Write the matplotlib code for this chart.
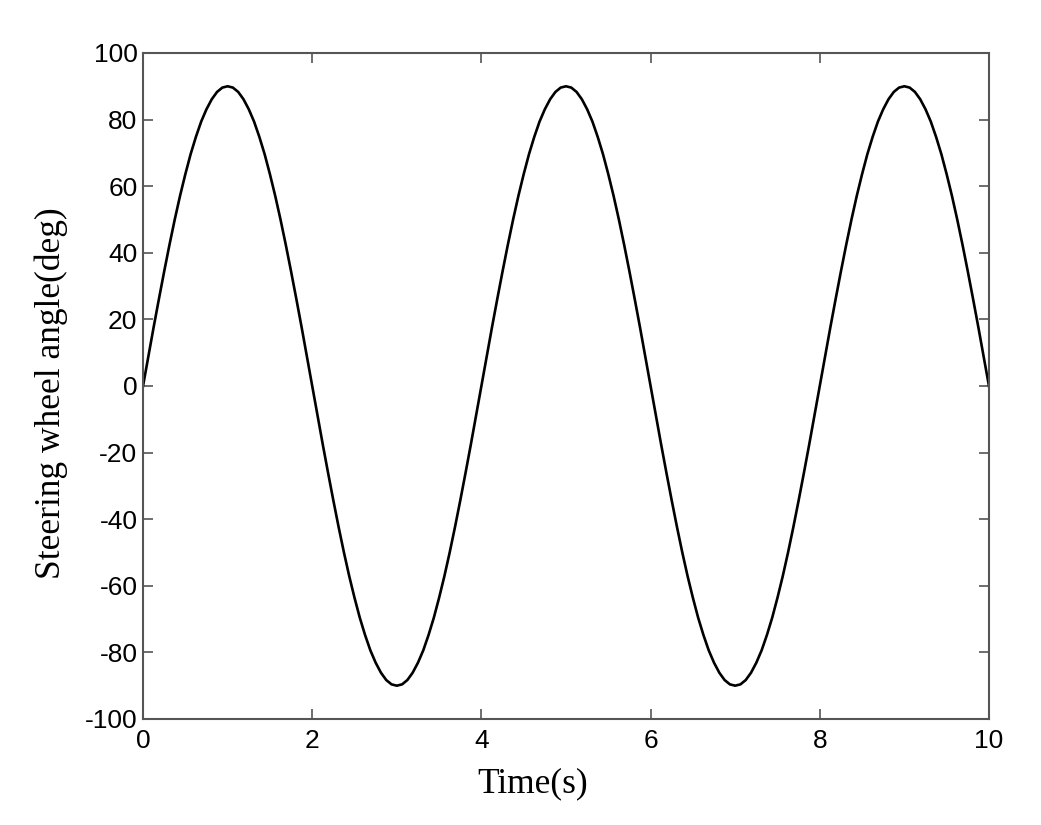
import numpy as np
import matplotlib
matplotlib.use("Agg")
import matplotlib.pyplot as plt

# time axis, 0.0625 s steps
time_s = np.arange(0, 10.0001, 0.0625)

# steering wheel angle (deg) at each time step
angle_deg = [
    0, 8.8, 17.6, 26.1, 34.4, 42.4, 50.0, 57.1, 63.6, 69.6, 74.8, 79.4, 83.1, 86.1, 88.3, 89.6,
    90, 89.6, 88.3, 86.1, 83.1, 79.4, 74.8, 69.6, 63.6, 57.1, 50.0, 42.4, 34.4, 26.1, 17.6, 8.8,
    0, -8.8, -17.6, -26.1, -34.4, -42.4, -50.0, -57.1, -63.6, -69.6, -74.8, -79.4, -83.1, -86.1, -88.3, -89.6,
    -90, -89.6, -88.3, -86.1, -83.1, -79.4, -74.8, -69.6, -63.6, -57.1, -50.0, -42.4, -34.4, -26.1, -17.6, -8.8,
    0, 8.8, 17.6, 26.1, 34.4, 42.4, 50.0, 57.1, 63.6, 69.6, 74.8, 79.4, 83.1, 86.1, 88.3, 89.6,
    90, 89.6, 88.3, 86.1, 83.1, 79.4, 74.8, 69.6, 63.6, 57.1, 50.0, 42.4, 34.4, 26.1, 17.6, 8.8,
    0, -8.8, -17.6, -26.1, -34.4, -42.4, -50.0, -57.1, -63.6, -69.6, -74.8, -79.4, -83.1, -86.1, -88.3, -89.6,
    -90, -89.6, -88.3, -86.1, -83.1, -79.4, -74.8, -69.6, -63.6, -57.1, -50.0, -42.4, -34.4, -26.1, -17.6, -8.8,
    0, 8.8, 17.6, 26.1, 34.4, 42.4, 50.0, 57.1, 63.6, 69.6, 74.8, 79.4, 83.1, 86.1, 88.3, 89.6,
    90, 89.6, 88.3, 86.1, 83.1, 79.4, 74.8, 69.6, 63.6, 57.1, 50.0, 42.4, 34.4, 26.1, 17.6, 8.8,
    0,
]

xticks = [0, 2, 4, 6, 8, 10]
yticks = [-100, -80, -60, -40, -20, 0, 20, 40, 60, 80, 100]

fig = plt.figure(figsize=(10.41, 8.25), dpi=100)
ax = fig.add_axes([0.1374, 0.1285, 0.8126, 0.8073])

ax.plot(time_s, angle_deg, color="black", linewidth=1.9, solid_joinstyle="round")

ax.set_xlim(0, 10)
ax.set_ylim(-100, 100)
ax.set_xticks(xticks)
ax.set_yticks(yticks)
ax.set_xticklabels([str(v) for v in xticks], fontsize=19, family="Liberation Sans")
ax.set_yticklabels([str(v) for v in yticks], fontsize=19, family="Liberation Sans")
ax.tick_params(direction="in", length=7, width=1.2, color="#555555",
               top=True, right=True, pad=4)
ax.tick_params(axis="x", pad=7)
for s in ax.spines.values():
    s.set_color("#555555")
    s.set_linewidth(1.5)

ax.set_xlabel("Time(s)", fontsize=25.5, family="Liberation Serif")
ax.set_ylabel("Steering wheel angle(deg)", fontsize=25.5, family="Liberation Serif")
# labels sit a little off-centre in the original
ax.xaxis.set_label_coords(0.461, -0.073)
ax.yaxis.set_label_coords(-0.089, 0.489)

fig.savefig("out.png", dpi=100)
